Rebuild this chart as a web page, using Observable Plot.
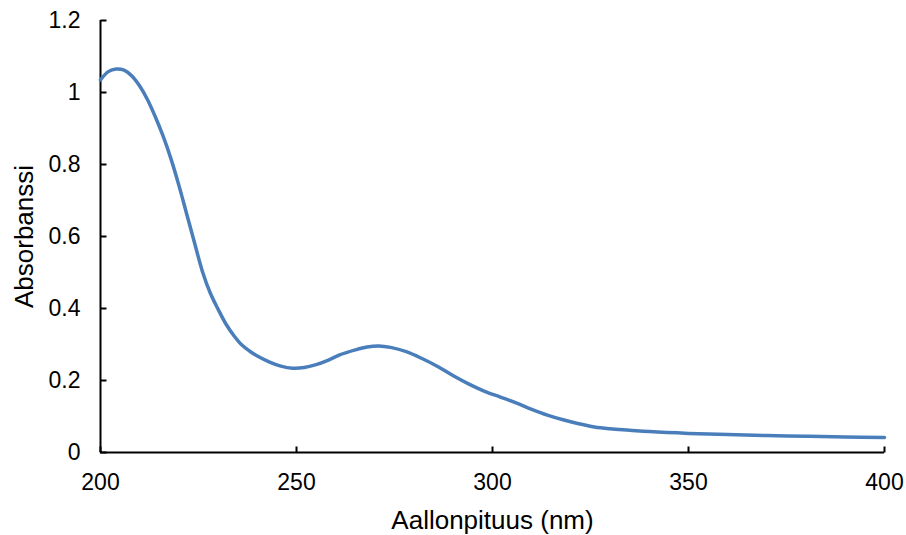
<!DOCTYPE html>
<html>
<head>
<meta charset="utf-8">
<script src="https://cdn.jsdelivr.net/npm/d3@7"></script>
<script src="https://cdn.jsdelivr.net/npm/@observablehq/plot@0.6"></script>
<style>
  html, body { margin: 0; padding: 0; background: #fff; }
  #chart svg { display: block; }
</style>
</head>
<body>
<div id="chart"></div>
<script>
// UV absorption spectrum: wavelength (nm) and absorbance
const wavelength = [
  200, 202, 204, 206, 208, 210, 212, 214, 216, 218,
  220, 222, 224, 226, 228, 230, 232, 234, 236, 238,
  240, 243, 246, 249, 252, 255, 258, 261, 265, 268,
  271, 274, 278, 282, 286, 290, 294, 298, 302, 306,
  310, 314, 318, 322, 326, 330, 335, 340, 350, 360,
  370, 380, 390, 400
];
const absorbance = [
  1.035, 1.058, 1.065, 1.062, 1.046, 1.018, 0.980, 0.932, 0.878, 0.815,
  0.742, 0.662, 0.582, 0.503, 0.443, 0.398, 0.357, 0.325, 0.299, 0.282,
  0.268, 0.252, 0.240, 0.234, 0.236, 0.244, 0.256, 0.271, 0.285, 0.293,
  0.296, 0.292, 0.280, 0.261, 0.239, 0.213, 0.190, 0.170, 0.154, 0.138,
  0.120, 0.104, 0.091, 0.080, 0.071, 0.066, 0.062, 0.058, 0.053, 0.050,
  0.047, 0.045, 0.043, 0.042
];

const xTicks = [200, 250, 300, 350, 400];
const xTickLabels = ["200", "250", "300", "350", "400"];
const yTicks = [0, 0.2, 0.4, 0.6, 0.8, 1, 1.2];
const yTickLabels = ["0", "0.2", "0.4", "0.6", "0.8", "1", "1.2"];
const xTitle = "Aallonpituus (nm)";
const yTitle = "Absorbanssi";

const spectrum = wavelength.map((w, i) => ({wavelength: w, absorbance: absorbance[i]}));
const xLabel = d => xTickLabels[xTicks.indexOf(d)];
const yLabel = d => yTickLabels[yTicks.indexOf(d)];

const font = "'Liberation Sans', Arial, Helvetica, sans-serif";

// frame geometry
const W = 906, H = 535;
const mL = 100, mR = 22, mT = 20, mB = 83;
const xDomain = [200, 400], yDomain = [0, 1.2];

// inward tick length of 6px, expressed in each scale's units
const tickPx = 6;
const xTickLen = tickPx * (xDomain[1] - xDomain[0]) / (W - mL - mR);
const yTickLen = tickPx * (yDomain[1] - yDomain[0]) / (H - mT - mB);

// short two-point segments for the tick marks, one group per tick
const xTickSegs = xTicks.flatMap(t => [
  {x: t, y: yDomain[0], k: "x" + t},
  {x: t, y: yDomain[0] + yTickLen, k: "x" + t}
]);
const yTickSegs = yTicks.flatMap(t => [
  {x: xDomain[0], y: t, k: "y" + t},
  {x: xDomain[0] + xTickLen, y: t, k: "y" + t}
]);

const axisStroke = {stroke: "#000", strokeWidth: 2};

const chart = Plot.plot({
  width: W,
  height: H,
  marginLeft: mL,
  marginRight: mR,
  marginTop: mT,
  marginBottom: mB,
  style: {fontFamily: font, background: "#fff", color: "#000"},
  x: {domain: xDomain},
  y: {domain: yDomain},
  marks: [
    // tick labels
    Plot.axisX({ticks: xTicks, tickSize: 0, tickPadding: 21, fontSize: 23, fill: "#000", tickFormat: xLabel, label: null}),
    Plot.axisY({ticks: yTicks, tickSize: 0, tickPadding: 20, fontSize: 23, fill: "#000", tickFormat: yLabel, label: null}),
    // inward tick marks: up from the x axis, right from the y axis
    Plot.line(xTickSegs, {x: "x", y: "y", z: "k", ...axisStroke, strokeLinecap: "butt"}),
    Plot.line(yTickSegs, {x: "x", y: "y", z: "k", ...axisStroke, strokeLinecap: "butt"}),
    // axis lines
    Plot.ruleX([xDomain[0]], axisStroke),
    Plot.ruleY([yDomain[0]], axisStroke),
    // spectrum
    Plot.line(spectrum, {
      x: "wavelength", y: "absorbance",
      stroke: "#4a7ebb", strokeWidth: 3.5, curve: "catmull-rom",
      strokeLinecap: "round", strokeLinejoin: "round"
    }),
    // axis titles
    Plot.text([xTitle], {frameAnchor: "bottom", textAnchor: "middle", lineAnchor: "middle", dy: 68, fontSize: 26, fill: "#000", text: d => d}),
    Plot.text([yTitle], {frameAnchor: "left", textAnchor: "middle", lineAnchor: "middle", rotate: -90, dx: -76, fontSize: 26, fill: "#000", text: d => d})
  ]
});

document.getElementById("chart").appendChild(chart);
</script>
</body>
</html>
